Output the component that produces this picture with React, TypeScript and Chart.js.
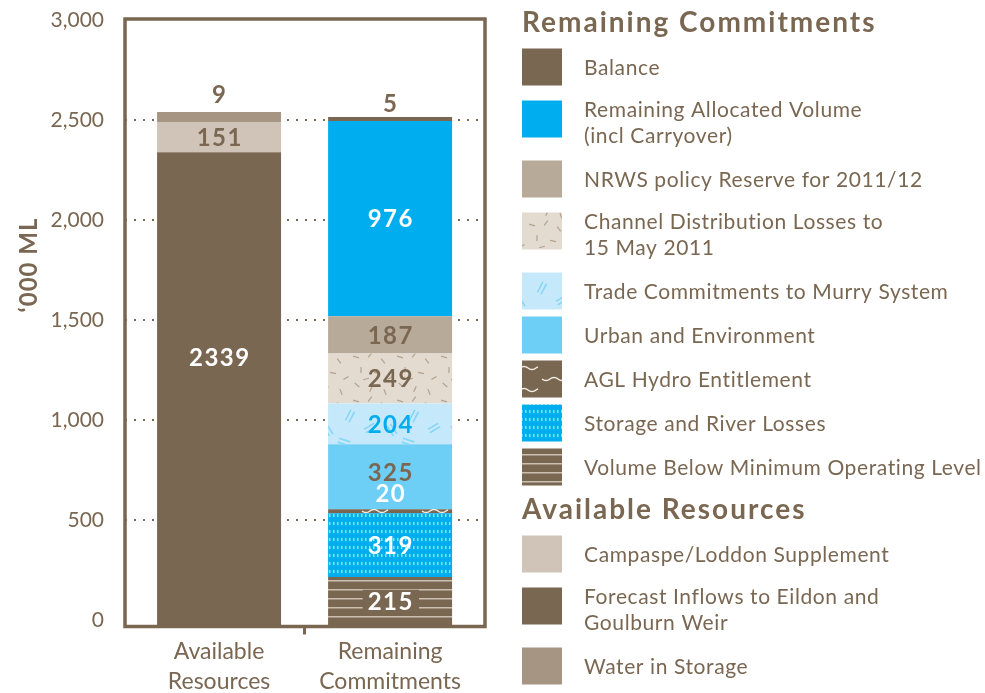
import React, { useEffect, useRef } from 'react';
import { Chart, registerables } from 'chart.js';
Chart.register(...registerables);

// ---------- data ----------
const categories = [['Available', 'Resources'], ['Remaining', 'Commitments']];
const forecastInflows = [2339, null];
const campaspeLoddon = [151, null];
const waterInStorage = [9, null];
const volumeBelowMOL = [null, 215];
const storageRiverLosses = [null, 319];
const aglHydro = [null, 20];
const urbanEnvironment = [null, 325];
const tradeCommitments = [null, 204];
const channelLosses = [null, 249];
const nrwsReserve = [null, 187];
const remainingAllocated = [null, 976];
const balance = [null, 5];
const yTicks = [0, 500, 1000, 1500, 2000, 2500, 3000];
const yTitle = '\u2018000 ML';
const legendHeader1 = 'Remaining Commitments';
const legendHeader2 = 'Available Resources';

// ---------- styles ----------
const BROWN = '#7a6752';
const BLUE = '#00aeef';
const FONT = 'Lato, "Open Sans", sans-serif';

function tile(w: number, h: number, draw: (g: CanvasRenderingContext2D) => void): CanvasPattern {
  const c = document.createElement('canvas');
  c.width = w;
  c.height = h;
  const g = c.getContext('2d')!;
  draw(g);
  return document.createElement('canvas').getContext('2d')!.createPattern(c, 'repeat')!;
}

function makePatterns() {
  const channel = tile(44, 44, (g) => {
    g.fillStyle = '#e3dad0';
    g.fillRect(0, 0, 44, 44);
    g.strokeStyle = '#b3a38f';
    g.lineWidth = 1.2;
    const marks = [[4, 5, 0.3], [18, 3, 2.2], [31, 9, 0.9], [9, 18, 1.6], [25, 21, 0.2], [38, 26, 2.6], [5, 33, 0.7], [19, 37, 2.0], [33, 40, 1.2], [14, 27, 2.9]];
    for (const [x, y, a] of marks) {
      g.beginPath();
      g.moveTo(x - 3 * Math.cos(a), y - 3 * Math.sin(a));
      g.lineTo(x + 3 * Math.cos(a), y + 3 * Math.sin(a));
      g.stroke();
    }
  });
  const trade = tile(64, 64, (g) => {
    g.fillStyle = '#c5e9fb';
    g.fillRect(0, 0, 64, 64);
    g.strokeStyle = '#86d6f6';
    g.lineWidth = 1.6;
    const marks = [[12, 10, -0.5], [44, 8, 0.6], [30, 32, -1.1], [8, 46, 1.0], [50, 44, 2.6], [24, 58, 0.3]];
    for (const [x, y, a] of marks) {
      for (const off of [-2, 2]) {
        const nx = -Math.sin(a) * off, ny = Math.cos(a) * off;
        g.beginPath();
        g.moveTo(x + nx - 6 * Math.cos(a), y + ny - 6 * Math.sin(a));
        g.lineTo(x + nx + 6 * Math.cos(a), y + ny + 6 * Math.sin(a));
        g.stroke();
      }
    }
  });
  const agl = tile(60, 22, (g) => {
    g.fillStyle = BROWN;
    g.fillRect(0, 0, 60, 22);
    g.strokeStyle = '#f4efe8';
    g.lineWidth = 1.4;
    const wave = (x0: number, y0: number, len: number) => {
      g.beginPath();
      for (let i = 0; i <= len; i++) {
        const yy = y0 + 1.5 * Math.sin((i / 8) * Math.PI);
        if (i === 0) g.moveTo(x0 + i, yy); else g.lineTo(x0 + i, yy);
      }
      g.stroke();
    };
    wave(2, 5, 26);
    wave(32, 16, 26);
  });
  const storage = tile(4, 8, (g) => {
    g.fillStyle = BLUE;
    g.fillRect(0, 0, 4, 8);
    g.fillStyle = '#8edcf8';
    g.fillRect(1, 2, 1.5, 3);
  });
  const mol = tile(8, 9, (g) => {
    g.fillStyle = BROWN;
    g.fillRect(0, 0, 8, 9);
    g.fillStyle = '#cbbfb2';
    g.fillRect(0, 4, 8, 1.5);
  });
  return { channel, trade, agl, storage, mol };
}

type LabelStyle = { color: string; pos: 'center' | 'above' | 'over'; bg?: string; dy?: number };

export default function App() {
  const ref = useRef<HTMLCanvasElement>(null);
  useEffect(() => {
    const pt = makePatterns();
    const datasets: any[] = [
      { label: 'Forecast Inflows to Eildon and Goulburn Weir', legend: ['Forecast Inflows to Eildon and', 'Goulburn Weir'], data: forecastInflows, backgroundColor: BROWN, base: -32.5 },
      { label: 'Campaspe/Loddon Supplement', legend: ['Campaspe/Loddon Supplement'], data: campaspeLoddon, backgroundColor: '#d0c4b8' },
      { label: 'Water in Storage', legend: ['Water in Storage'], data: waterInStorage, backgroundColor: '#a59582', minBarLength: 10 },
      { label: 'Volume Below Minimum Operating Level', legend: ['Volume Below Minimum Operating Level'], data: volumeBelowMOL, backgroundColor: pt.mol, base: -32.5 },
      { label: 'Storage and River Losses', legend: ['Storage and River Losses'], data: storageRiverLosses, backgroundColor: pt.storage },
      { label: 'AGL Hydro Entitlement', legend: ['AGL Hydro Entitlement'], data: aglHydro, backgroundColor: pt.agl },
      { label: 'Urban and Environment', legend: ['Urban and Environment'], data: urbanEnvironment, backgroundColor: '#6dcff6' },
      { label: 'Trade Commitments to Murry System', legend: ['Trade Commitments to Murry System'], data: tradeCommitments, backgroundColor: pt.trade },
      { label: 'Channel Distribution Losses to 15 May 2011', legend: ['Channel Distribution Losses to', '15 May 2011'], data: channelLosses, backgroundColor: pt.channel },
      { label: 'NRWS policy Reserve for 2011/12', legend: ['NRWS policy Reserve for 2011/12'], data: nrwsReserve, backgroundColor: '#b8aa98' },
      { label: 'Remaining Allocated Volume (incl Carryover)', legend: ['Remaining Allocated Volume', '(incl Carryover)'], data: remainingAllocated, backgroundColor: BLUE },
      { label: 'Balance', legend: ['Balance'], data: balance, backgroundColor: BROWN, minBarLength: 4 },
    ];
    const labelStyles: Record<string, LabelStyle> = {
      'Forecast Inflows to Eildon and Goulburn Weir': { color: '#fff', pos: 'center', dy: -32 },
      'Campaspe/Loddon Supplement': { color: BROWN, pos: 'center' },
      'Water in Storage': { color: BROWN, pos: 'above', dy: -4 },
      'Volume Below Minimum Operating Level': { color: '#fff', pos: 'center', bg: BROWN },
      'Storage and River Losses': { color: '#fff', pos: 'center' },
      'AGL Hydro Entitlement': { color: '#fff', pos: 'over' },
      'Urban and Environment': { color: BROWN, pos: 'center', dy: -4 },
      'Trade Commitments to Murry System': { color: BLUE, pos: 'center' },
      'Channel Distribution Losses to 15 May 2011': { color: BROWN, pos: 'center' },
      'NRWS policy Reserve for 2011/12': { color: BROWN, pos: 'center' },
      'Remaining Allocated Volume (incl Carryover)': { color: '#fff', pos: 'center' },
      'Balance': { color: BROWN, pos: 'above' },
    };
    const legendRemaining = [11, 10, 9, 8, 7, 6, 5, 4, 3];
    const legendAvailable = [1, 0, 2];

    const decor = {
      id: 'decor',
      afterDatasetsDraw(chart: any) {
        const { ctx, chartArea: a } = chart;
        ctx.save();
        ctx.strokeStyle = BROWN;
        ctx.lineWidth = 3.5;
        ctx.strokeRect(a.left, a.top, a.right - a.left, a.bottom - a.top);
        ctx.font = `bold 24px ${FONT}`;
        ctx.letterSpacing = '1.5px';
        ctx.textAlign = 'center';
        ctx.textBaseline = 'middle';
        chart.data.datasets.forEach((ds: any, di: number) => {
          const st = labelStyles[ds.label];
          const meta = chart.getDatasetMeta(di);
          ds.data.forEach((v: number | null, i: number) => {
            if (v == null) return;
            const el = meta.data[i];
            const top = Math.min(el.y, el.base);
            const bot = Math.max(el.y, el.base);
            let y = (top + bot) / 2;
            if (st.pos === 'above') y = top - 14;
            if (st.pos === 'over') y = top - 16;
            y += st.dy || 0;
            const txt = String(v);
            const x = el.x + 0.75;
            if (st.bg) {
              const w = ctx.measureText(txt).width + 10;
              ctx.fillStyle = st.bg;
              ctx.fillRect(x - w / 2, y - 12, w, 24);
            }
            ctx.fillStyle = st.color;
            ctx.fillText(txt, x, y + 1);
          });
        });
        ctx.restore();
      },
      afterDraw(chart: any) {
        const { ctx } = chart;
        ctx.save();
        ctx.fillStyle = BROWN;
        ctx.font = `bold 24px ${FONT}`;
        ctx.letterSpacing = '1px';
        ctx.textAlign = 'center';
        ctx.textBaseline = 'middle';
        ctx.translate(29, 265);
        ctx.rotate(-Math.PI / 2);
        ctx.fillText(yTitle, 0, 0);
        ctx.restore();

        ctx.save();
        const sx = 522, sw = 40, sh = 37, tx = 584;
        ctx.textBaseline = 'middle';
        ctx.textAlign = 'left';
        let y = 4;
        const header = (t: string) => {
          ctx.font = `bold 28px ${FONT}`;
          ctx.letterSpacing = '2px';
          ctx.fillStyle = BROWN;
          ctx.fillText(t, sx, y + 19);
          y += 41;
        };
        const item = (di: number) => {
          const ds = datasets[di];
          const lines: string[] = ds.legend;
          const h = lines.length > 1 ? 68 : 44;
          const cy = y + (lines.length > 1 ? 30 : 22);
          ctx.fillStyle = ds.backgroundColor;
          ctx.fillRect(sx, cy - sh / 2, sw, sh);
          ctx.font = `21px ${FONT}`;
          ctx.letterSpacing = '0.6px';
          ctx.fillStyle = BROWN;
          if (lines.length > 1) {
            ctx.fillText(lines[0], tx, cy - 9);
            ctx.fillText(lines[1], tx, cy + 17);
          } else {
            ctx.fillText(lines[0], tx, cy + 1);
          }
          y += h;
        };
        header(legendHeader1);
        legendRemaining.forEach(item);
        y += 2;
        header(legendHeader2);
        legendAvailable.forEach(item);
        ctx.restore();
      },
    };

    const chart = new Chart(ref.current!, {
      type: 'bar',
      data: { labels: categories as any, datasets },
      options: {
        animation: false,
        responsive: false,
        layout: { padding: { top: 19, right: 500, left: 0, bottom: 0 } },
        plugins: { legend: { display: false }, tooltip: { enabled: false } },
        datasets: { bar: { barPercentage: 0.725, categoryPercentage: 1 } },
        scales: {
          x: {
            stacked: true,
            border: { display: false },
            grid: {
              offset: true,
              drawOnChartArea: false,
              drawTicks: true,
              tickLength: 8,
              lineWidth: 3,
              color: (c: any) => (c.index === 1 ? BROWN : 'rgba(0,0,0,0)'),
            },
            ticks: { color: BROWN, font: { family: FONT, size: 23, lineHeight: 1.3 }, padding: 2 },
            afterFit: (s: any) => {
              s.height = 66.5;
              s.paddingLeft = 0;
              s.paddingRight = 0;
              // categories sit a little closer together than the default spacing
              s._startValue = -0.55;
              s._valueRange = 2.105;
            },
          },
          y: {
            stacked: true,
            min: -32.5,
            max: 3005,
            border: { display: false, dash: [2, 7] },
            afterBuildTicks: (s: any) => { s.ticks = yTicks.map((v) => ({ value: v })); },
            grid: {
              drawTicks: false,
              lineWidth: 2,
              color: (c: any) => (c.tick && (c.tick.value === 0 || c.tick.value === 3000) ? 'rgba(0,0,0,0)' : BROWN),
            },
            ticks: {
              color: BROWN,
              font: { family: FONT, size: 21 },
              padding: 21,
              callback: (v: any) => Number(v).toLocaleString('en-US'),
            },
            afterFit: (s: any) => { s.width = 125; s.paddingTop = 0; s.paddingBottom = 0; },
          },
        },
      } as any,
      plugins: [decor],
    });
    return () => chart.destroy();
  }, []);
  return (
    <div style={{ position: 'absolute', left: 0, top: 0 }}>
      <canvas ref={ref} width={985} height={693} style={{ display: 'block', width: 985, height: 693 }} />
    </div>
  );
}
